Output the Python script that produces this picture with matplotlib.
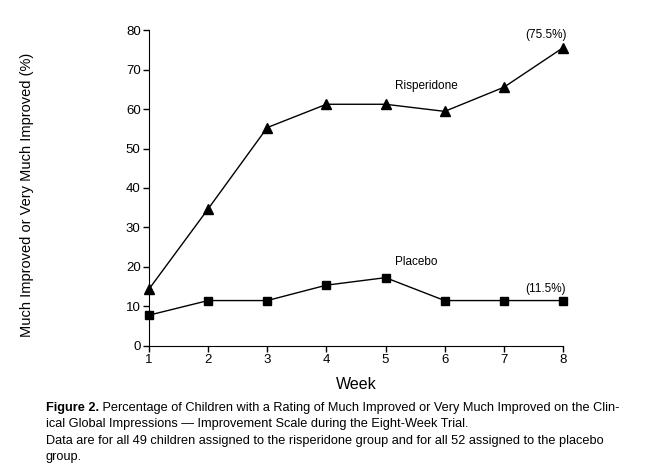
import numpy as np
import matplotlib
matplotlib.use("Agg")
from matplotlib import pyplot as plt

weeks = [1, 2, 3, 4, 5, 6, 7, 8]
risperidone = [14.4, 34.7, 55.3, 61.2, 61.2, 59.4, 65.5, 75.5]
placebo = [7.8, 11.5, 11.5, 15.4, 17.3, 11.5, 11.5, 11.5]
y_ticks = [0, 10, 20, 30, 40, 50, 60, 70, 80]

plt.rcParams['font.family'] = ['Liberation Sans', 'DejaVu Sans']

fig = plt.figure(figsize=(6.63, 4.69), dpi=100)
ax = fig.add_axes([0.2247, 0.2623, 0.6244, 0.6737])

ax.plot(weeks, risperidone, color='k', lw=1.0, marker='^', ms=6.5, clip_on=False)
ax.plot(weeks, placebo, color='k', lw=1.0, marker='s', ms=5.5, clip_on=False)

ax.set_xlim(1, 8)
ax.set_ylim(0, 80)
ax.set_xticks(weeks)
ax.set_yticks(y_ticks)
ax.spines['top'].set_visible(False)
ax.spines['right'].set_visible(False)
ax.tick_params(direction='out', length=4, width=1, labelsize=9.5, pad=2)
ax.set_xlabel('Week', fontsize=11.5, labelpad=8)
ax.set_ylabel('Much Improved or Very Much Improved (%)', fontsize=10.5)
ax.yaxis.set_label_coords(-115 / 414, 0.478)

ax.text(5.16, 65.8, 'Risperidone', fontsize=8.5, va='center')
ax.text(5.16, 21.3, 'Placebo', fontsize=8.5, va='center')
ax.text(8.07, 78.7, '(75.5%)', fontsize=8.5, va='center', ha='right')
ax.text(8.05, 14.4, '(11.5%)', fontsize=8.5, va='center', ha='right')

cap = 9.2
t = fig.text(46 / 663, 1 - 408 / 469, 'Figure 2.', fontsize=cap, weight='bold', va='center')
ax.annotate(' Percentage of Children with a Rating of Much Improved or Very Much Improved on the Clin-',
            xy=(1, 0.5), xycoords=t, va='center', fontsize=cap, annotation_clip=False)
fig.text(46 / 663, 1 - 424 / 469,
         'ical Global Impressions \u2014 Improvement Scale during the Eight-Week Trial.',
         fontsize=cap, va='center')
fig.text(46 / 663, 1 - 441 / 469,
         'Data are for all 49 children assigned to the risperidone group and for all 52 assigned to the placebo',
         fontsize=cap, va='center')
fig.text(46 / 663, 1 - 457 / 469, 'group.', fontsize=cap, va='center')

fig.savefig('out.png', dpi=100)
